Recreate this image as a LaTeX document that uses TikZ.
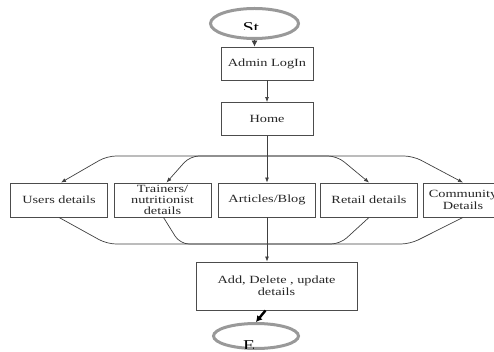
\documentclass[tikz,border=0pt]{standalone}
\usepackage{fontspec}
\setmainfont{Liberation Serif}[FakeStretch=1.3]
\usetikzlibrary{arrows.meta,shapes.geometric}

\begin{document}
\begin{tikzpicture}[
  x=1pt, y=-1pt,
  box/.style={draw=black!70, line width=0.9pt, minimum width=97pt, minimum height=34pt,
    align=center, inner xsep=2pt, inner ysep=0pt, text=black!85,
    font=\fontsize{11}{12}\selectfont},
  oval/.style={draw=black!40, line width=3pt, ellipse, inner sep=0pt},
  flow/.style={-{Latex[length=5pt,width=4pt]}, draw=black!75, line width=0.7pt},
  link/.style={draw=black!75, line width=0.7pt, rounded corners=9pt},
  stub/.style={-{Latex[length=6pt,width=7pt]}, line width=2.4pt}
]
\clip (0,0) rectangle (494,352);

% terminals
\node[oval, minimum width=88pt, minimum height=30pt] (start) at (254.5,23.5) {};
\node[oval, minimum width=85pt, minimum height=25pt] (end) at (256,336) {};
\begin{scope}
  \clip (200,0) rectangle (310,29.5);
  \node[anchor=north, inner sep=0pt, font=\fontsize{15}{16}\selectfont] (startlbl) at (251,22) {St};
\end{scope}
\begin{scope}
  \clip (200,300) rectangle (310,348);
  \node[anchor=north, inner sep=0pt, font=\fontsize{15}{16}\selectfont] (endlbl) at (249,340) {E};
\end{scope}

% main column
\node[box, minimum width=92pt, minimum height=33pt] (admin) at (267,63.5) {Admin LogIn};
\node[box, minimum width=92pt, minimum height=33pt] (home) at (267,119) {Home};

% detail row
\node[box] (users) at (59,200) {Users details};
\node[box, font=\fontsize{11}{11}\selectfont] (trainers) at (162.5,200) {Trainers/\\nutritionist\\details};
\node[box] (articles) at (267,200) {Articles/Blog};
\node[box] (retail) at (369,200) {Retail details};
\node[box, minimum width=80pt, inner xsep=0pt] (community) at (463,200) {Community\\Details};

\node[box, minimum width=161pt, minimum height=48pt] (add) at (276.5,286) {Add, Delete , update\\details};

\coordinate (split) at (267,156);
\coordinate (merge) at (267,244);

\draw[flow, -{Latex[length=6pt,width=6pt]}] (start.south) -- (start.south |- admin.north);
\draw[flow] (admin) -- (home);
\draw[flow] (home) -- (articles);

% branches out of home
\draw[flow, rounded corners=9pt] (split) -- (107,156) -- ([xshift=2pt]users.north);
\draw[flow, rounded corners=9pt] (split) -- (190,156) -- ([xshift=4pt]trainers.north);
\draw[flow, rounded corners=9pt] (split) -- (337,156) -- (retail.north);
\draw[flow, rounded corners=9pt] (split) -- (413,156) -- (community.north);

% joins into add
\draw[link] (users.south) -- (107,244) -- (merge);
\draw[link] ([xshift=1pt]trainers.south) -- (180,244) -- (merge);
\draw[link] (retail.south) -- (340,244) -- (merge);
\draw[link] (community.south) -- (410,244) -- (merge);
\draw[flow] (articles) -- (articles.south |- add.north);

\draw[stub] ([xshift=-11pt]add.south) -- (end.north);
\end{tikzpicture}
\end{document}
